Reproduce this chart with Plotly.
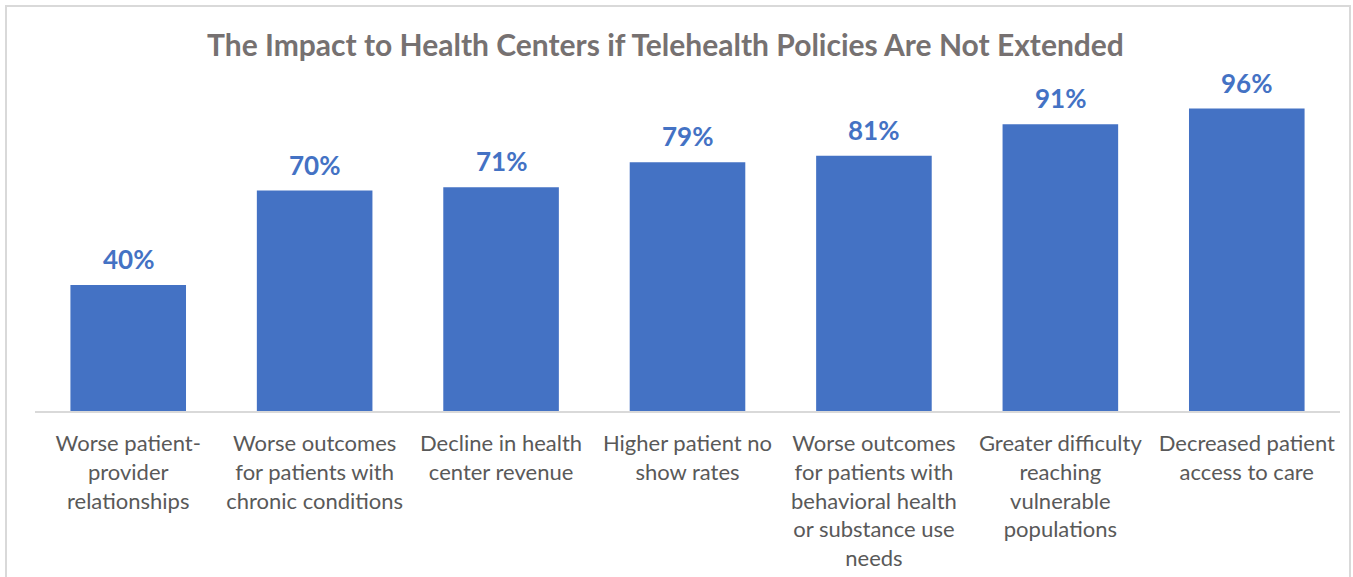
import plotly.graph_objects as go

categories = [
    "Worse patient-<br>provider<br>relationships",
    "Worse outcomes<br>for patients with<br>chronic conditions",
    "Decline in health<br>center revenue",
    "Higher patient no<br>show rates",
    "Worse outcomes<br>for patients with<br>behavioral health<br>or substance use<br>needs",
    "Greater difficulty<br>reaching<br>vulnerable<br>populations",
    "Decreased patient<br>access to care",
]
values = [40, 70, 71, 79, 81, 91, 96]
labels = [f"{v}%" for v in values]

W, H = 1353, 577
L, R, T, B = 35, 13, 96, 166
pw = W - L - R
ph = H - T - B

fig = go.Figure(go.Bar(
    x=categories, y=values,
    marker=dict(color="#4472C4", line=dict(width=0)),
))

for c, v, t in zip(categories, values, labels):
    fig.add_annotation(x=c, y=v, text=f"<b>{t}</b>", showarrow=False,
                       yanchor="bottom", yshift=8,
                       font=dict(family="Lato", size=26, color="#4472C4"))

def px_x(p):
    return (p - L) / pw

def px_y(p):
    return (H - B - p) / ph

fig.add_shape(type="rect", xref="paper", yref="paper",
              x0=px_x(6), x1=px_x(1350), y0=px_y(6), y1=px_y(600),
              line=dict(color="#D9D9D9", width=2), fillcolor="rgba(0,0,0,0)")

fig.update_layout(
    width=W, height=H,
    margin=dict(l=L, r=R, t=T, b=B, autoexpand=False),
    paper_bgcolor="white", plot_bgcolor="white",
    bargap=0.38,
    showlegend=False,
    title=dict(text="<b>The Impact to Health Centers if Telehealth Policies Are Not Extended</b>",
               x=665.5 / W, xref="container", xanchor="center", y=1 - 45 / H, yanchor="middle",
               font=dict(family="Lato", size=30, color="#767171")),
    xaxis=dict(showline=True, linecolor="#D9D9D9", linewidth=2, ticks="",
               tickfont=dict(family="Lato", size=22, color="#595959"),
               ticklabelstandoff=12, automargin=False,
               showgrid=False, zeroline=False),
    yaxis=dict(range=[0, 100], visible=False, showgrid=False, zeroline=False),
)

fig.write_html("out.html")
